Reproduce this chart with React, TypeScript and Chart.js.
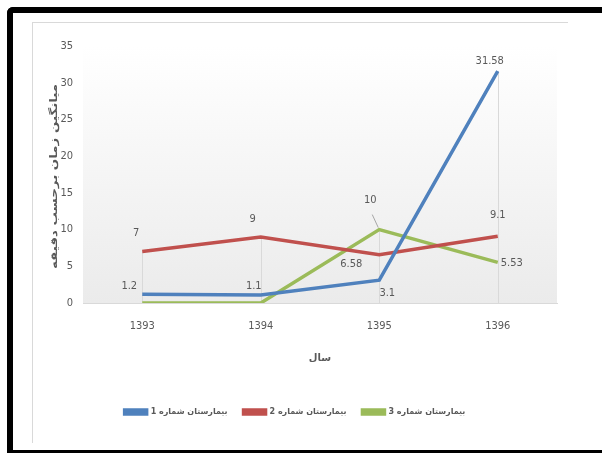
import React, { useEffect, useRef } from "react";
import { Chart, registerables } from "chart.js";

Chart.register(...registerables);

// ---- data ----
const years = ["1393", "1394", "1395", "1396"];
const hospital1 = [1.2, 1.1, 3.1, 31.58];
const hospital2 = [7, 9, 6.58, 9.1];
const hospital3 = [0, 0, 10, 5.53];
const seriesNames = ["بیمارستان شماره 1", "بیمارستان شماره 2", "بیمارستان شماره 3"];
const yMin = 0;
const yMax = 35;
const yStep = 5;
const yTitle = "میانگین زمان برحسب دقیقه";
const xTitle = "سال";

// ---- styling ----
const colors = ["#4F81BD", "#C0504D", "#9BBB59"];
const NUM_FONT = "'Liberation Sans Narrow', 'DejaVu Sans Condensed', 'Liberation Sans', sans-serif";
const FA_FONT = "'DejaVu Sans', sans-serif";
const TEXT = "#595959";
const GRID = "#d9d9d9";

// label placement: offset (px) from each point; null = no label
const labelOffsets: ([number, number] | null)[][] = [
  [[-13, -8], [-7, -9], [8, 13], [-8, -10]],
  [[-6, -18], [-8, -18], [-28, 9], [0, -21]],
  [null, null, [-9, -29], [14, 1]],
];
// leader line for the "10" label of series 3 at index 2
const leader = { ds: 2, idx: 2, from: [-7, -15], to: [-1, -2] };

const plotBg = {
  id: "plotBg",
  beforeDatasetsDraw(chart: any) {
    const { ctx, chartArea: a } = chart;
    ctx.save();
    const g = ctx.createLinearGradient(0, a.top, 0, a.bottom);
    g.addColorStop(0, "#ffffff");
    g.addColorStop(1, "#ebebeb");
    ctx.fillStyle = g;
    ctx.fillRect(a.left, a.top, a.right - a.left, a.bottom - a.top);
    const xs = chart.scales.x;
    const ys = chart.scales.y;
    ctx.strokeStyle = GRID;
    ctx.lineWidth = 1;
    years.forEach((_, i) => {
      let m = -Infinity;
      chart.data.datasets.forEach((d: any) => (m = Math.max(m, d.data[i])));
      const x = Math.round(xs.getPixelForValue(i)) + 0.5;
      ctx.beginPath();
      ctx.moveTo(x, ys.getPixelForValue(m));
      ctx.lineTo(x, ys.getPixelForValue(0));
      ctx.stroke();
    });
    ctx.restore();
  },
};

const yTitlePlugin = {
  id: "yTitle",
  afterDraw(chart: any) {
    const { ctx, chartArea: a } = chart;
    ctx.save();
    ctx.font = `bold 10px ${FA_FONT}`;
    ctx.fillStyle = TEXT;
    ctx.textAlign = "center";
    ctx.textBaseline = "middle";
    const w = ctx.measureText(yTitle).width;
    const target = (a.bottom - a.top) * 0.72;
    ctx.translate(a.left - 29, (a.top + a.bottom) / 2 + 2);
    ctx.rotate(-Math.PI / 2);
    ctx.scale(target / w, 1);
    ctx.fillText(yTitle, 0, 0);
    ctx.restore();
  },
};

const dataLabels = {
  id: "dataLabels",
  afterDatasetsDraw(chart: any) {
    const { ctx } = chart;
    ctx.save();
    ctx.font = `11px ${NUM_FONT}`;
    ctx.fillStyle = TEXT;
    ctx.textAlign = "center";
    ctx.textBaseline = "middle";
    chart.data.datasets.forEach((d: any, di: number) => {
      const meta = chart.getDatasetMeta(di);
      d.data.forEach((v: number, i: number) => {
        const off = labelOffsets[di][i];
        if (!off) return;
        const p = meta.data[i];
        ctx.fillText(String(v), p.x + off[0], p.y + off[1]);
      });
    });
    const p = chart.getDatasetMeta(leader.ds).data[leader.idx];
    ctx.strokeStyle = "#a6a6a6";
    ctx.lineWidth = 1;
    ctx.beginPath();
    ctx.moveTo(p.x + leader.from[0], p.y + leader.from[1]);
    ctx.lineTo(p.x + leader.to[0], p.y + leader.to[1]);
    ctx.stroke();
    ctx.restore();
  },
};

export default function App() {
  const ref = useRef<HTMLCanvasElement>(null);
  useEffect(() => {
    document.documentElement.style.background = "#fff";
    document.body.style.background = "#fff";
    document.body.style.margin = "0";
    document.body.style.overflow = "hidden";
    document.documentElement.style.overflow = "hidden";
    const ctx = ref.current!.getContext("2d")!;
    const series = [hospital1, hospital2, hospital3];
    const chart = new Chart(ctx, {
      type: "line",
      data: {
        labels: years,
        datasets: series.map((s, i) => ({
          label: seriesNames[i],
          data: s,
          borderColor: colors[i],
          backgroundColor: colors[i],
          borderWidth: 3.5,
          pointRadius: 0,
          tension: 0,
          fill: false,
        })),
      },
      options: {
        responsive: false,
        animation: false,
        layout: { padding: { left: 0, right: 11, top: 23, bottom: 17 } },
        plugins: {
          tooltip: { enabled: false },
          legend: {
            position: "bottom",
            labels: {
              boxWidth: 22,
              boxHeight: 4,
              padding: 16,
              color: TEXT,
              font: { family: FA_FONT, size: 8, weight: "bold" },
            },
          },
        },
        scales: {
          x: {
            offset: true,
            grid: { display: false, drawTicks: false },
            border: { display: true, color: GRID, width: 1 },
            ticks: { color: TEXT, padding: 17, font: { family: NUM_FONT, size: 11 } },
            title: {
              display: true,
              text: xTitle,
              color: TEXT,
              padding: { top: 0, bottom: 28 },
              font: { family: FA_FONT, size: 10, weight: "bold" },
            },
            afterFit(scale: any) {
              scale.height = 89;
            },
          },
          y: {
            min: yMin,
            max: yMax,
            grid: { display: false, drawTicks: false },
            border: { display: false },
            ticks: { stepSize: yStep, color: TEXT, padding: 10, font: { family: NUM_FONT, size: 11 } },
            title: { display: false, text: yTitle },
            afterFit(scale: any) {
              scale.width = 50;
            },
          },
        },
      },
      plugins: [plotBg, dataLabels, yTitlePlugin],
    });
    return () => chart.destroy();
  }, []);

  return (
    <div style={{ position: "fixed", left: 0, top: 0, width: 602, height: 453, overflow: "hidden", background: "#fff" }}>
      <div style={{ position: "absolute", left: 7, top: 7, width: 600, height: 6, background: "#000", borderTopLeftRadius: 6 }} />
      <div style={{ position: "absolute", left: 7, top: 7, width: 6, height: 446, background: "#000", borderTopLeftRadius: 6 }} />
      <div style={{ position: "absolute", left: 7, top: 450, width: 600, height: 3, background: "#000" }} />
      <div style={{ position: "absolute", left: 32, top: 22, width: 536, height: 1, background: GRID }} />
      <div style={{ position: "absolute", left: 32, top: 22, width: 1, height: 421, background: GRID }} />
      <canvas ref={ref} width={535} height={420} style={{ position: "absolute", left: 33, top: 23 }} />
    </div>
  );
}
